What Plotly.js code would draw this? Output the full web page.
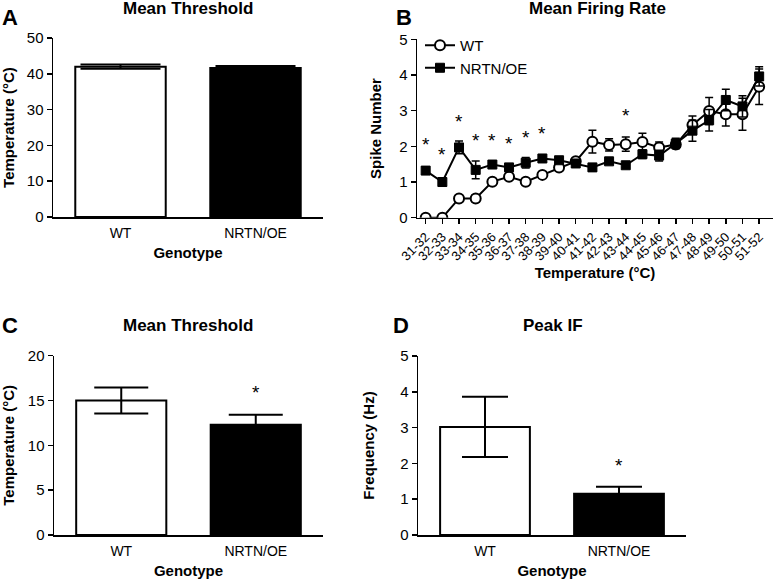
<!DOCTYPE html>
<html>
<head>
<meta charset="utf-8">
<script src="https://cdn.plot.ly/plotly-3.0.1.min.js"></script>
<style>html,body{margin:0;padding:0;background:#fff;}#chart{width:777px;height:581px;}</style>
</head>
<body>
<div id="chart"></div>
<script>
// ---- Data ----
const genotypes = ['WT', 'NRTN/OE'];

// Panel A: mean threshold (°C)
const thrA = [42.0, 41.6];
const thrAErr = [0.6, 0.6];

// Panel B: mean firing rate
const tempBins = ['31-32','32-33','33-34','34-35','35-36','36-37','37-38','38-39','39-40','40-41',
                  '41-42','42-43','43-44','44-45','45-46','46-47','47-48','48-49','49-50','50-51','51-52'];
const wtSpikes =   [0, 0, 0.54, 0.54, 1.01, 1.15, 1.01, 1.2, 1.41, 1.58, 2.13, 2.04, 2.06, 2.12, 1.97, 2.05, 2.6, 2.99, 2.9, 2.9, 3.67];
const wtSpikesErr = [0, 0, 0.06, 0.1, 0.05, 0.05, 0.05, 0.05, 0.05, 0.05, 0.32, 0.17, 0.2, 0.25, 0.15, 0.1, 0.25, 0.38, 0.33, 0.45, 0.5];
const oeSpikes =   [1.32, 1.0, 1.97, 1.34, 1.49, 1.41, 1.54, 1.66, 1.61, 1.52, 1.41, 1.58, 1.47, 1.78, 1.74, 2.08, 2.44, 2.73, 3.3, 3.12, 3.96];
const oeSpikesErr = [0.1, 0.12, 0.18, 0.25, 0.07, 0.1, 0.15, 0.06, 0.06, 0.1, 0.1, 0.06, 0.06, 0.12, 0.15, 0.15, 0.3, 0.3, 0.3, 0.3, 0.27];
const starBinsB = ['31-32','32-33','33-34','34-35','35-36','36-37','37-38','38-39','43-44'];
const starYB = [2.18, 1.88, 2.83, 2.27, 2.27, 2.2, 2.36, 2.49, 2.99];

// Panel C: mean threshold (°C)
const thrC = [15.0, 12.3];
const thrCErr = [1.45, 1.1];

// Panel D: peak IF (Hz)
const peakIF = [3.02, 1.15];
const peakIFErr = [0.84, 0.2];

// ---- Styling ----
const FONT = 'Liberation Sans, Arial, sans-serif';
const barColors = ['#ffffff', '#000000'];

function barTrace(y, err, xa, ya, cap) {
  return {
    type: 'bar', x: genotypes, y: y, xaxis: xa, yaxis: ya, width: 0.67,
    marker: {color: barColors, line: {color: '#000', width: 2}},
    error_y: {type: 'data', array: err, visible: true, color: '#000', thickness: 2, width: cap},
    showlegend: false, hoverinfo: 'skip'
  };
}

const traces = [
  barTrace(thrA, thrAErr, 'x', 'y', 40),
  {
    type: 'scatter', mode: 'lines+markers', name: 'WT', x: tempBins, y: wtSpikes,
    xaxis: 'x2', yaxis: 'y2',
    line: {color: '#000', width: 2},
    marker: {symbol: 'circle', size: 10, color: '#fff', line: {color: '#000', width: 2}},
    error_y: {type: 'data', array: wtSpikesErr, visible: true, color: '#000', thickness: 1.5, width: 4}
  },
  {
    type: 'scatter', mode: 'lines+markers', name: 'NRTN/OE', x: tempBins, y: oeSpikes,
    xaxis: 'x2', yaxis: 'y2',
    line: {color: '#000', width: 2},
    marker: {symbol: 'square', size: 9, color: '#000', line: {color: '#000', width: 1}},
    error_y: {type: 'data', array: oeSpikesErr, visible: true, color: '#000', thickness: 1.5, width: 4}
  },
  barTrace(thrC, thrCErr, 'x3', 'y3', 27),
  barTrace(peakIF, peakIFErr, 'x4', 'y4', 23)
];

function yAx(domain, range, dtick, anchor, title, standoff) {
  return {
    domain: domain, range: range, dtick: dtick, anchor: anchor,
    showline: true, linecolor: '#000', linewidth: 1.5, ticks: 'outside', ticklen: 5,
    tickwidth: 1.5, tickcolor: '#000', showgrid: false, zeroline: false,
    tickfont: {family: FONT, size: 15, color: '#000'},
    title: {text: title, font: {family: FONT, size: 15, color: '#000', weight: 'bold'}, standoff: standoff},
    fixedrange: true
  };
}
function xAxBar(domain, anchor) {
  return {
    domain: domain, anchor: anchor, range: [-0.5, 1.5], type: 'category',
    showline: true, linecolor: '#000', linewidth: 1.5, ticks: '', showgrid: false, zeroline: false,
    ticklabelstandoff: 3,
    tickfont: {family: FONT, size: 14, color: '#000'},
    title: {text: 'Genotype', font: {family: FONT, size: 15, color: '#000', weight: 'bold'}, standoff: 7},
    fixedrange: true
  };
}

const annotations = [];
function panelTitle(text, x, y) {
  annotations.push({text: '<b>' + text + '</b>', xref: 'paper', yref: 'paper', x: x, y: y,
    xanchor: 'center', yanchor: 'middle', showarrow: false, font: {family: FONT, size: 17, color: '#000'}});
}
function panelLetter(text, x, y) {
  annotations.push({text: '<b>' + text + '</b>', xref: 'paper', yref: 'paper', x: x, y: y,
    xanchor: 'left', yanchor: 'middle', showarrow: false, font: {family: FONT, size: 22, color: '#000'}});
}
panelTitle('Mean Threshold', 188 / 777, 1 - 9 / 581);
panelTitle('Mean Firing Rate', 597 / 777, 1 - 9 / 581);
panelTitle('Mean Threshold', 188 / 777, 1 - 325 / 581);
panelTitle('Peak IF', 553 / 777, 1 - 325 / 581);
panelLetter('A', 0 / 777, 1 - 18 / 581);
panelLetter('B', 394 / 777, 1 - 17 / 581);
panelLetter('C', 0 / 777, 1 - 325 / 581);
panelLetter('D', 391 / 777, 1 - 325 / 581);

function star(xref, yref, x, y) {
  annotations.push({text: '*', xref: xref, yref: yref, x: x, y: y, showarrow: false,
    xanchor: 'center', yanchor: 'middle', font: {family: FONT, size: 19, color: '#000'}});
}
starBinsB.forEach((b, i) => star('x2', 'y2', b, starYB[i] - 0.12));
star('x3', 'y3', 'NRTN/OE', 15.9);
star('x4', 'y4', 'NRTN/OE', 1.95);

const layout = {
  width: 777, height: 581,
  margin: {l: 0, r: 0, t: 0, b: 0},
  paper_bgcolor: '#fff', plot_bgcolor: '#fff',
  font: {family: FONT, color: '#000'},
  bargap: 0.33,
  xaxis: xAxBar([53 / 777, 323 / 777], 'y'),
  yaxis: yAx([1 - 217 / 581, 1 - 38 / 581], [0, 50], 10, 'x', 'Temperature (°C)', 9),
  xaxis2: {
    domain: [417 / 777, 773 / 777], anchor: 'y2', type: 'category', range: [-0.52, 20.83],
    showline: true, linecolor: '#000', linewidth: 1.5, ticks: 'outside', ticklen: 5,
    tickwidth: 1.5, tickcolor: '#000', showgrid: false, zeroline: false, tickangle: -45,
    tickfont: {family: FONT, size: 13, color: '#000'},
    title: {text: 'Temperature (°C)', font: {family: FONT, size: 15, color: '#000', weight: 'bold'}, standoff: 3},
    fixedrange: true
  },
  yaxis2: yAx([1 - 217.7 / 581, 1 - 39.3 / 581], [0, 5], 1, 'x2', 'Spike Number', 14),
  xaxis3: xAxBar([54 / 777, 323 / 777], 'y3'),
  yaxis3: yAx([1 - 535 / 581, 1 - 355.7 / 581], [0, 20], 5, 'x3', 'Temperature (°C)', 9),
  xaxis4: xAxBar([418 / 777, 686 / 777], 'y4'),
  yaxis4: yAx([1 - 535 / 581, 1 - 356 / 581], [0, 5], 1, 'x4', 'Frequency (Hz)', 22),
  showlegend: true,
  legend: {x: 420 / 777, y: 1 - 29 / 581, xanchor: 'left', yanchor: 'top', bgcolor: 'rgba(0,0,0,0)',
    font: {family: FONT, size: 15, color: '#000'}, tracegroupgap: 0, itemwidth: 30},
  annotations: annotations
};

Plotly.newPlot('chart', traces, layout, {staticPlot: true, displayModeBar: false});
</script>
</body>
</html>
